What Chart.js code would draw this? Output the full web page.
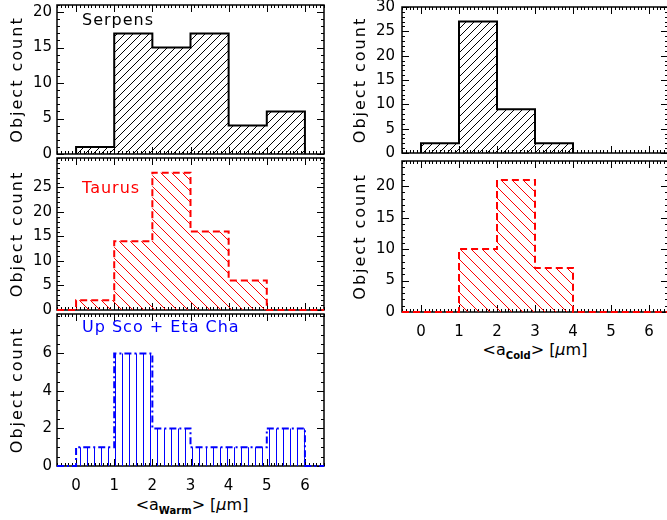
<!DOCTYPE html>
<html>
<head>
<meta charset="utf-8">
<script src="https://cdn.jsdelivr.net/npm/chart.js@4.4.0/dist/chart.umd.min.js"></script>
<style>
html, body { margin: 0; padding: 0; background: #fff; }
body { position: relative; width: 667px; height: 520px; overflow: hidden; font-family: "DejaVu Sans", sans-serif; }
canvas { position: absolute; }
.lbl { position: absolute; font-size: 16px; line-height: 16px; white-space: nowrap; letter-spacing: 1px; z-index: 10; }
.xtitle { position: absolute; font-size: 16px; white-space: nowrap; transform: translate(-50%, -50%); color: #000; }
.xtitle sub { font-size: 10px; font-weight: bold; vertical-align: -4px; }
</style>
</head>
<body>
<div class="lbl" style="left:82px;top:12px;color:#000">Serpens</div>
<div class="lbl" style="left:82px;top:180px;color:red">Taurus</div>
<div class="lbl" style="left:82px;top:319px;color:blue">Up Sco + Eta Cha</div>
<div class="xtitle" style="left:192px;top:505px">&lt;a<sub>Warm</sub>&gt; [<i>μ</i>m]</div>
<div class="xtitle" style="left:535px;top:350px">&lt;a<sub>Cold</sub>&gt; [<i>μ</i>m]</div>
<script>
// histogram data (bin edges + counts per bin)
const xTicks = [0, 1, 2, 3, 4, 5, 6];
const warmEdges = [0, 1, 2, 3, 4, 5, 6];
const serpensWarm = [1, 17, 15, 17, 4, 6];
const taurusWarm = [2, 14, 28, 16, 6, 0];
const upscoWarm = [1, 6, 2, 1, 1, 2];
const coldEdges = [0, 1, 2, 3, 4];
const serpensCold = [2, 27, 9, 2];
const taurusCold = [0, 10, 21, 7];

const ticksSerpW = [0, 5, 10, 15, 20];
const ticksTaurW = [0, 5, 10, 15, 20, 25];
const ticksUpscoW = [0, 2, 4, 6];
const ticksSerpC = [0, 5, 10, 15, 20, 25, 30];
const ticksTaurC = [0, 5, 10, 15, 20];

const FONT = '"DejaVu Sans", sans-serif';

// step outline points for a histogram
function stepPoints(edges, counts, pad) {
    const pts = [{ x: pad ? -0.5 : edges[0], y: 0 }];
    counts.forEach((c, i) => pts.push({ x: edges[i], y: c }));
    pts.push({ x: edges[edges.length - 1], y: 0 });
    if (pad) pts.push({ x: 6.5, y: 0 });
    return pts;
}

function hatch(color, kind, gap, lw) {
    const c = document.createElement('canvas');
    c.width = gap; c.height = gap;
    const g = c.getContext('2d');
    g.strokeStyle = color; g.lineWidth = lw;
    g.beginPath();
    if (kind === 'v') {
        const x = Math.floor(gap / 2) + 0.5;
        g.moveTo(x, 0); g.lineTo(x, gap);
    } else {
        for (const k of [-gap, 0, gap]) {
            if (kind === '/') { g.moveTo(k, gap); g.lineTo(k + gap, 0); }
            else { g.moveTo(k, 0); g.lineTo(k + gap, gap); }
        }
    }
    g.stroke();
    return g.createPattern(c, 'repeat');
}

// IDL-like frame with inward ticks on all four sides
const framePlugin = {
    id: 'frame',
    beforeDatasetsDraw(chart, args, opts) {
        const { ctx, chartArea: a } = chart;
        const xs = chart.scales.x, ys = chart.scales.y;
        ctx.save();
        ctx.strokeStyle = '#000';
        ctx.lineWidth = 1.5;
        ctx.strokeRect(a.left, a.top, a.right - a.left, a.bottom - a.top);
        ctx.lineWidth = 1;
        ctx.beginPath();
        const tickX = (v, len) => {
            const p = Math.round(xs.getPixelForValue(v)) + 0.5;
            ctx.moveTo(p, a.bottom); ctx.lineTo(p, a.bottom - len);
            ctx.moveTo(p, a.top); ctx.lineTo(p, a.top + len);
        };
        const tickY = (v, len) => {
            const p = Math.round(ys.getPixelForValue(v)) + 0.5;
            ctx.moveTo(a.left, p); ctx.lineTo(a.left + len, p);
            ctx.moveTo(a.right, p); ctx.lineTo(a.right - len, p);
        };
        for (let i = Math.ceil(xs.min / opts.xMinor); i * opts.xMinor <= xs.max + 1e-9; i++) tickX(i * opts.xMinor, 3);
        xTicks.forEach(v => tickX(v, 7));
        for (let i = Math.ceil(ys.min / opts.yMinor); i * opts.yMinor <= ys.max + 1e-9; i++) tickY(i * opts.yMinor, 3);
        ys.ticks.forEach(t => tickY(t.value, 7));
        ctx.stroke();
        ctx.restore();
    }
};

function makePanel(p) {
    const showX = !!p.showX;
    const c = document.createElement('canvas');
    const h = (p.bottom - p.top) + 12 + (showX ? 32 : 12);
    c.width = p.width; c.height = h;
    c.style.left = p.left + 'px'; c.style.top = (p.top - 12) + 'px';
    c.style.zIndex = p.z;
    document.body.appendChild(c);
    const ds = p.series.map(s => ({
        data: s.data,
        borderColor: s.color,
        borderWidth: 2,
        borderDash: s.dash || [],
        backgroundColor: hatch(s.color, s.hatch, s.gap, 1),
        fill: 'origin',
        stepped: 'before',
        pointRadius: 0,
        tension: 0,
        clip: 4
    }));
    new Chart(c, {
        type: 'line',
        data: { datasets: ds },
        plugins: [framePlugin],
        options: {
            responsive: false,
            animation: false,
            devicePixelRatio: 1,
            layout: { padding: { top: 12, bottom: showX ? 0 : 12, left: 0, right: p.padRight } },
            plugins: { legend: { display: false }, tooltip: { enabled: false }, frame: { xMinor: 0.1, yMinor: p.yMinor } },
            scales: {
                x: {
                    type: 'linear', min: -0.5, max: 6.5,
                    display: showX,
                    afterBuildTicks: s => { s.ticks = xTicks.map(v => ({ value: v })); },
                    afterFit: s => { s.height = showX ? 32 : 0; },
                    grid: { display: false, drawTicks: false },
                    border: { display: false },
                    ticks: { display: showX, color: '#000', font: { family: FONT, size: 15 }, padding: 11, maxRotation: 0 }
                },
                y: {
                    min: 0, max: p.yMax,
                    afterBuildTicks: s => { s.ticks = p.yTicks.map(v => ({ value: v })); },
                    afterFit: s => {
                        s.width = 57;
                        if (!s._spaced) {
                            // wider title lettering, like the original plot font
                            const orig = s.drawTitle.bind(s);
                            s.drawTitle = () => { s.ctx.letterSpacing = '2px'; orig(); s.ctx.letterSpacing = '0px'; };
                            s._spaced = true;
                        }
                    },
                    grid: { display: false, drawTicks: false },
                    border: { display: false },
                    ticks: { color: '#000', font: { family: FONT, size: 15 }, padding: p.tickPad },
                    title: { display: true, text: 'Object count', color: '#000', font: { family: FONT, size: 16 }, padding: { top: p.titlePad, bottom: 0 } }
                }
            }
        }
    });
}

const L = { left: 0, width: 330, padRight: 6, tickPad: 5, titlePad: 8 };
const R = { left: 345, width: 323, padRight: 0, tickPad: 7, titlePad: 6 };

makePanel({ ...L, z: 3, top: 3, bottom: 156, yMax: 21, yTicks: ticksSerpW, yMinor: 1,
    series: [{ data: stepPoints(warmEdges, serpensWarm, false), color: '#000', hatch: '/', gap: 8 }] });
makePanel({ ...L, z: 2, top: 156, bottom: 312, yMax: 31, yTicks: ticksTaurW, yMinor: 1,
    series: [{ data: stepPoints(warmEdges, taurusWarm, true), color: 'red', hatch: '\\', gap: 11, dash: [7, 4] }] });
makePanel({ ...L, z: 1, top: 312, bottom: 466, yMax: 8.1, yTicks: ticksUpscoW, yMinor: 0.5, showX: true,
    series: [{ data: stepPoints(warmEdges, upscoWarm, true), color: 'blue', hatch: 'v', gap: 7, dash: [7, 3, 2, 3] }] });
makePanel({ ...R, z: 3, top: 3, bottom: 157, yMax: 30, yTicks: ticksSerpC, yMinor: 1,
    series: [{ data: stepPoints(coldEdges, serpensCold, false), color: '#000', hatch: '/', gap: 8 }] });
makePanel({ ...R, z: 2, top: 157, bottom: 312, yMax: 24, yTicks: ticksTaurC, yMinor: 1, showX: true,
    series: [{ data: stepPoints(coldEdges, taurusCold, true), color: 'red', hatch: '\\', gap: 11, dash: [7, 4] }] });
</script>
</body>
</html>
